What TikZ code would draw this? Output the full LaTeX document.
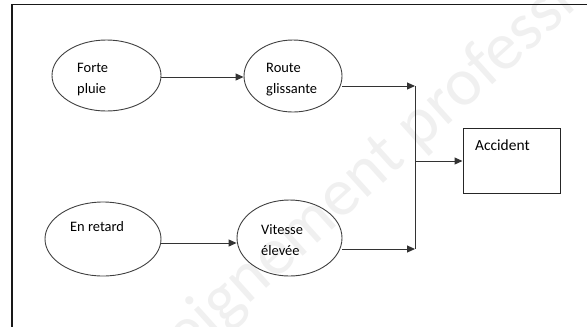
\documentclass[tikz,border=0pt]{standalone}
\usepackage{fontspec}
\setmainfont{Carlito}
\usetikzlibrary{shapes.geometric,arrows.meta}
\begin{document}
\begin{tikzpicture}[x=1bp,y=-1bp,
  oval/.style={draw=black!75,line width=0.9bp,ellipse,inner sep=0pt},
  lbl/.style={inner sep=0pt,align=left,font=\fontsize{14.5}{21}\selectfont,text=black},
  arr/.style={draw=black!80,line width=1bp,-{Triangle[length=8bp,width=7bp]}},
  conn/.style={draw=black!80,line width=1bp},
  boxst/.style={draw=black!85,line width=1bp,rectangle,inner sep=0pt},
  frame/.style={draw=black!90,line width=1.8bp},
  wm/.style={inner sep=0pt,font=\fontsize{68}{68}\selectfont,text=black!6}]
\useasboundingbox (0,0) rectangle (587,326);
\clip (0,0) rectangle (587,326);
% watermark
\node[wm,rotate=42,anchor=base west] (wmk) at (116,424) {enseignement professionnel};
% frame
\draw[frame] (12,340) -- (12,4.5) -- (600,4.5);
% ellipses
\node[oval,minimum width=109bp,minimum height=71bp] (fp) at (106.5,75.5) {};
\node[oval,minimum width=98bp,minimum height=72bp] (rg) at (293,76) {};
\node[oval,minimum width=116bp,minimum height=74bp] (er) at (103,239) {};
\node[oval,minimum width=105bp,minimum height=76bp] (ve) at (289.5,238) {};
\node[boxst,minimum width=97bp,minimum height=65bp] (acc) at (511.5,160.5) {};
% labels
\node[lbl,anchor=base west] (tfp) at (77,93) {Forte\\pluie};
\node[lbl,anchor=base west] (trg) at (266,93) {Route\\glissante};
\node[lbl,anchor=base west] (ter) at (70,231) {En retard};
\node[lbl,anchor=base west] (tve) at (261,255) {Vitesse\\élevée};
\node[lbl,anchor=base west,font=\fontsize{15.5}{21}\selectfont] (tacc) at (475,150) {Accident};
% junctions
\coordinate (j1) at (415,86);
\coordinate (j2) at (415,249);
\coordinate (jm) at (415,161);
% connectors
\draw[arr] ([yshift=-1.5bp]fp.east) -- ([yshift=-1bp]rg.west);
\draw[arr] ([yshift=-4bp]er.east) -- ([yshift=-5bp]ve.west);
\draw[arr] (rg.east |- j1) -- (j1);
\draw[arr] (ve.east |- j2) -- (j2);
\draw[conn] (j1) -- (j2);
\draw[arr] (jm) -- (acc.west |- jm);
\end{tikzpicture}
\end{document}
